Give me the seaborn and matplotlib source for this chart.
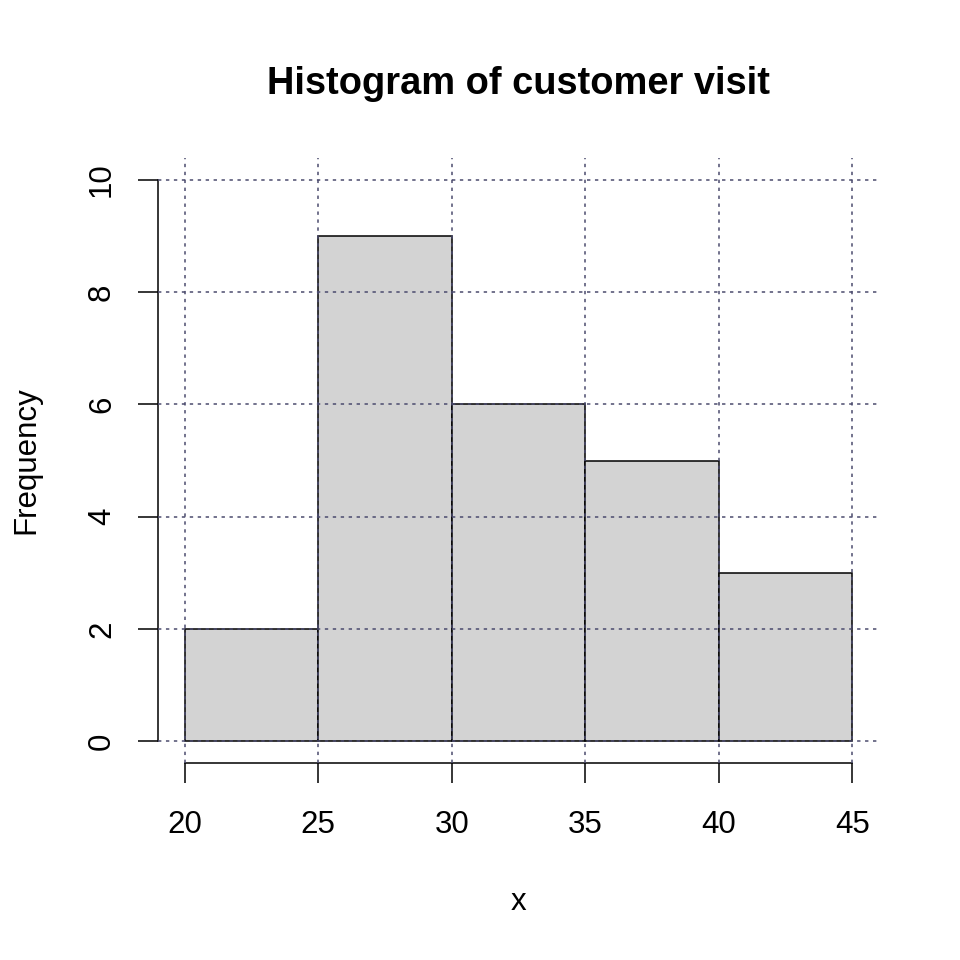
import matplotlib
matplotlib.use("Agg")
import matplotlib.pyplot as plt
import seaborn as sns
import numpy as np

# data
bin_edges = [20, 25, 30, 35, 40, 45]
bin_counts = [2, 9, 6, 5, 3]
x_ticks = [20, 25, 30, 35, 40, 45]
y_ticks = [0, 2, 4, 6, 8, 10]
title = "Histogram of customer visit"
x_label = "x"
y_label = "Frequency"

sns.set_style("white")
plt.rcParams['font.family'] = ['Liberation Sans', 'DejaVu Sans']
plt.rcParams['text.color'] = 'black'
plt.rcParams['axes.labelcolor'] = 'black'

centers = [(a + b) / 2 for a, b in zip(bin_edges[:-1], bin_edges[1:])]

fig = plt.figure(figsize=(9.6, 9.6), dpi=100)
ax = fig.add_axes([158/960, 1 - 763.4/960, (879 - 158)/960, (763.4 - 157.6)/960])

sns.histplot(x=centers, weights=bin_counts, bins=bin_edges, ax=ax,
             color="#d3d3d3", edgecolor="black", linewidth=1.1, alpha=1, zorder=2)

ax.set_xlim(19, 46)
ax.set_ylim(-0.4, 10.4)
ax.set_xticks(x_ticks)
ax.set_yticks(y_ticks)
ax.set_xticklabels([str(v) for v in x_ticks])
ax.set_yticklabels([str(v) for v in y_ticks], rotation=90, va='center')

for s in ["top", "right"]:
    ax.spines[s].set_visible(False)
ax.spines["left"].set_bounds(0, 10)
ax.spines["bottom"].set_bounds(20, 45)
for s in ["left", "bottom"]:
    ax.spines[s].set_linewidth(1.1)
    ax.spines[s].set_color("black")

ax.tick_params(axis='both', direction='out', length=14.5, width=1.1, color='black',
               labelsize=22.5, labelcolor='black', bottom=True, left=True)
ax.tick_params(axis='x', pad=19)
ax.tick_params(axis='y', pad=15)

# grid on top
for v in x_ticks:
    ax.axvline(v, color="#4b4b6e", linestyle=(0, (2.2, 3.0)), linewidth=1.1, zorder=5)
for v in y_ticks:
    ax.axhline(v, color="#4b4b6e", linestyle=(0, (2.2, 3.0)), linewidth=1.1, zorder=5)

ax.set_xlabel(x_label, fontsize=22.5, labelpad=34)
ax.set_ylabel(y_label, fontsize=22.5, labelpad=33)
ax.set_title(title, fontsize=27.4, fontweight='bold', pad=46)

fig.savefig("out.png", dpi=100)
